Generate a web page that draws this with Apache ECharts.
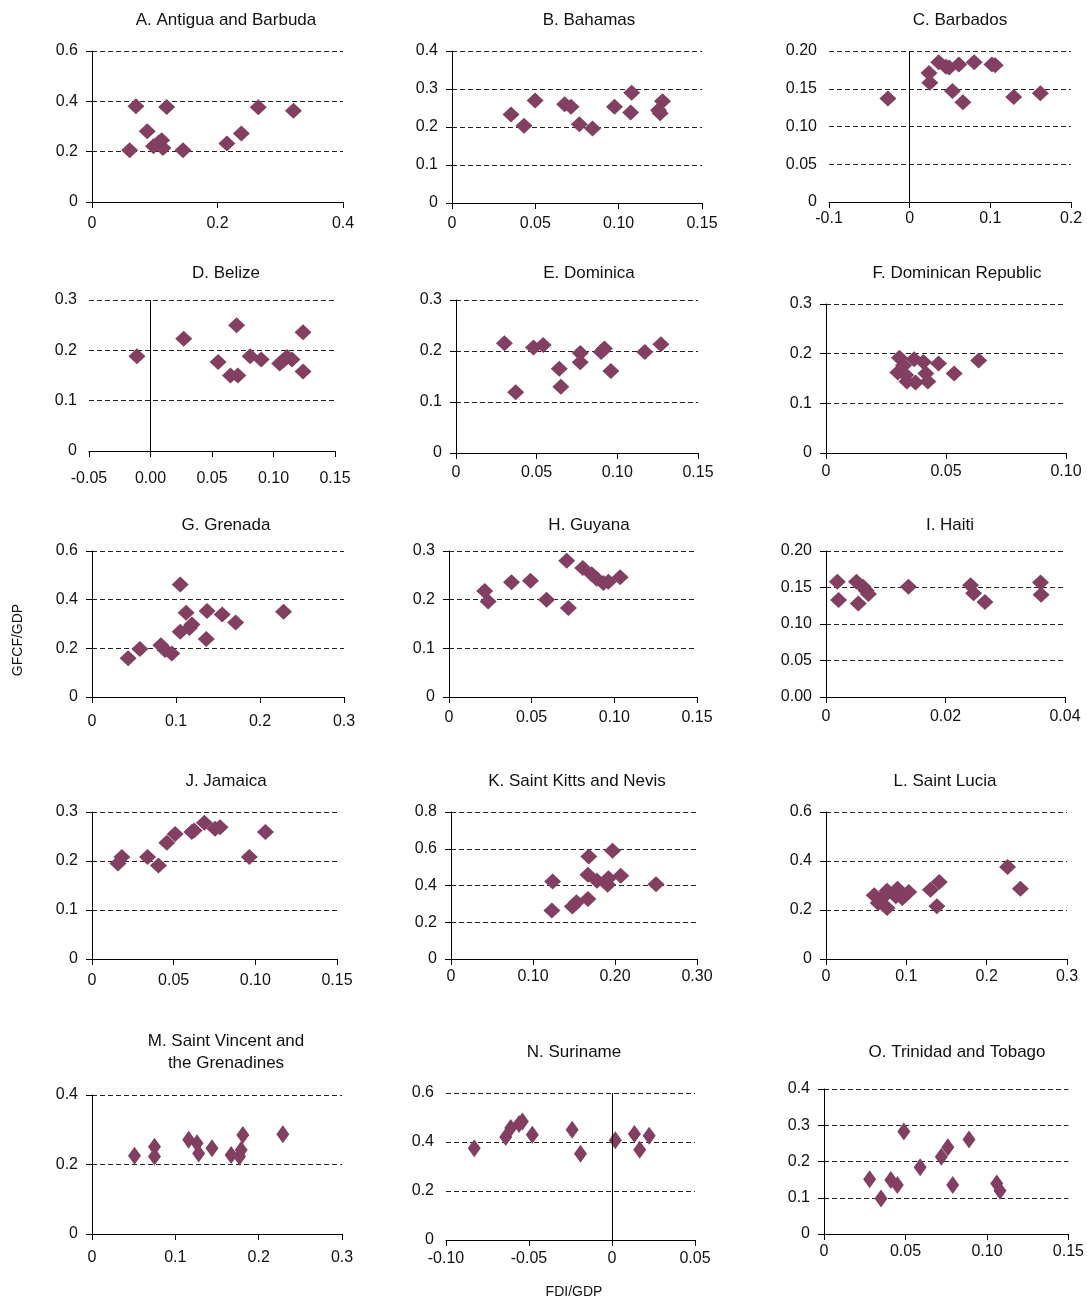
<!DOCTYPE html>
<html><head><meta charset="utf-8">
<script src="https://cdn.jsdelivr.net/npm/echarts@6/dist/echarts.min.js"></script>
<style>html,body{margin:0;padding:0;background:#fff}#c{width:1087px;height:1300px}</style>
</head><body><div id="c"></div>
<script>
// ---------- DATA ----------
const panelTitles = ['A. Antigua and Barbuda','B. Bahamas','C. Barbados','D. Belize','E. Dominica','F. Dominican Republic','G. Grenada','H. Guyana','I. Haiti','J. Jamaica','K. Saint Kitts and Nevis','L. Saint Lucia','M. Saint Vincent and\nthe Grenadines','N. Suriname','O. Trinidad and Tobago'];
const xAxisTitle = 'FDI/GDP';
const yAxisTitle = 'GFCF/GDP';

const fdiA = [0.060,0.070,0.088,0.098,0.106,0.111,0.113,0.119,0.145,0.215,0.238,0.265,0.321];
const gfcfA = [0.206,0.380,0.281,0.222,0.235,0.245,0.215,0.377,0.206,0.232,0.272,0.376,0.363];
const fdiB = [0.0354,0.0432,0.0499,0.0676,0.0714,0.0764,0.0843,0.0975,0.1072,0.1078,0.1239,0.1249,0.1263];
const gfcfB = [0.233,0.203,0.270,0.260,0.253,0.207,0.196,0.253,0.238,0.290,0.244,0.236,0.268];
const fdiC = [-0.027,0.024,0.025,0.036,0.045,0.049,0.053,0.061,0.066,0.080,0.102,0.106,0.129,0.162];
const gfcfC = [0.137,0.171,0.158,0.185,0.179,0.178,0.147,0.182,0.132,0.185,0.182,0.181,0.139,0.144];
const fdiD = [-0.011,0.027,0.055,0.065,0.071,0.070,0.081,0.090,0.105,0.108,0.111,0.115,0.124,0.124];
const gfcfD = [0.188,0.223,0.177,0.150,0.150,0.250,0.188,0.182,0.174,0.180,0.187,0.182,0.236,0.158];
const fdiE = [0.030,0.037,0.048,0.054,0.064,0.065,0.077,0.077,0.090,0.092,0.096,0.117,0.127];
const gfcfE = [0.215,0.119,0.207,0.212,0.165,0.130,0.196,0.178,0.198,0.205,0.161,0.198,0.213];
const fdiF = [0.0306,0.0299,0.0323,0.0332,0.0337,0.0367,0.0373,0.0406,0.0416,0.0424,0.0469,0.0534,0.0636];
const gfcfF = [0.192,0.162,0.176,0.157,0.144,0.189,0.142,0.183,0.160,0.144,0.180,0.160,0.186];
const fdiG = [0.043,0.057,0.082,0.087,0.095,0.105,0.105,0.112,0.116,0.119,0.136,0.137,0.155,0.171,0.228];
const gfcfG = [0.159,0.197,0.213,0.193,0.179,0.462,0.268,0.346,0.284,0.298,0.238,0.353,0.339,0.306,0.350];
const fdiH = [0.0216,0.0237,0.0378,0.0493,0.059,0.0712,0.0722,0.0809,0.0863,0.0893,0.0934,0.0964,0.1035];
const gfcfH = [0.218,0.196,0.236,0.239,0.200,0.280,0.183,0.265,0.252,0.243,0.234,0.237,0.246];
const fdiI = [0.0019,0.0021,0.0051,0.0054,0.0062,0.0067,0.0071,0.0138,0.0242,0.0247,0.0266,0.0359,0.0360];
const gfcfI = [0.158,0.133,0.158,0.128,0.151,0.146,0.141,0.151,0.153,0.142,0.130,0.157,0.140];
const fdiJ = [0.0159,0.0183,0.034,0.0407,0.0458,0.0509,0.0611,0.0625,0.0688,0.0753,0.0784,0.0963,0.1062];
const gfcfJ = [0.195,0.208,0.208,0.191,0.237,0.255,0.259,0.262,0.278,0.266,0.269,0.208,0.259];
const fdiK = [0.124,0.123,0.148,0.153,0.167,0.168,0.167,0.178,0.191,0.192,0.197,0.207,0.250];
const gfcfK = [0.422,0.264,0.286,0.309,0.327,0.558,0.458,0.426,0.404,0.440,0.589,0.453,0.407];
const fdiL = [0.060,0.065,0.070,0.076,0.076,0.087,0.089,0.095,0.103,0.130,0.141,0.138,0.226,0.242];
const gfcfL = [0.260,0.229,0.249,0.279,0.208,0.256,0.287,0.249,0.273,0.283,0.314,0.215,0.376,0.287];
const fdiM = [0.051,0.075,0.075,0.116,0.126,0.128,0.144,0.167,0.177,0.179,0.181,0.229];
const gfcfM = [0.225,0.251,0.223,0.271,0.261,0.232,0.247,0.227,0.223,0.242,0.285,0.287];
const fdiN = [-0.083,-0.064,-0.061,-0.056,-0.054,-0.048,-0.024,-0.019,0.002,0.0135,0.0167,0.0224];
const gfcfN = [0.375,0.420,0.457,0.473,0.484,0.430,0.450,0.352,0.407,0.433,0.368,0.426];
const fdiO = [0.028,0.035,0.041,0.045,0.049,0.059,0.072,0.076,0.079,0.089,0.106,0.108];
const gfcfO = [0.151,0.098,0.149,0.135,0.283,0.184,0.213,0.239,0.135,0.261,0.139,0.119];

const xTicksA = ['0','0.2','0.4'];               const yTicksA = ['0','0.2','0.4','0.6'];
const xTicksB = ['0','0.05','0.10','0.15'];      const yTicksB = ['0','0.1','0.2','0.3','0.4'];
const xTicksC = ['-0.1','0','0.1','0.2'];        const yTicksC = ['0','0.05','0.10','0.15','0.20'];
const xTicksD = ['-0.05','0.00','0.05','0.10','0.15']; const yTicksD = ['0','0.1','0.2','0.3'];
const xTicksE = ['0','0.05','0.10','0.15'];      const yTicksE = ['0','0.1','0.2','0.3'];
const xTicksF = ['0','0.05','0.10'];             const yTicksF = ['0','0.1','0.2','0.3'];
const xTicksG = ['0','0.1','0.2','0.3'];         const yTicksG = ['0','0.2','0.4','0.6'];
const xTicksH = ['0','0.05','0.10','0.15'];      const yTicksH = ['0','0.1','0.2','0.3'];
const xTicksI = ['0','0.02','0.04'];             const yTicksI = ['0.00','0.05','0.10','0.15','0.20'];
const xTicksJ = ['0','0.05','0.10','0.15'];      const yTicksJ = ['0','0.1','0.2','0.3'];
const xTicksK = ['0','0.10','0.20','0.30'];      const yTicksK = ['0','0.2','0.4','0.6','0.8'];
const xTicksL = ['0','0.1','0.2','0.3'];         const yTicksL = ['0','0.2','0.4','0.6'];
const xTicksM = ['0','0.1','0.2','0.3'];         const yTicksM = ['0','0.2','0.4'];
const xTicksN = ['-0.10','-0.05','0','0.05'];    const yTicksN = ['0','0.2','0.4','0.6'];
const xTicksO = ['0','0.05','0.10','0.15'];      const yTicksO = ['0','0.1','0.2','0.3','0.4'];

// ---------- LAYOUT ----------
const panels = [
  [fdiA,gfcfA,xTicksA,yTicksA],[fdiB,gfcfB,xTicksB,yTicksB],[fdiC,gfcfC,xTicksC,yTicksC],
  [fdiD,gfcfD,xTicksD,yTicksD],[fdiE,gfcfE,xTicksE,yTicksE],[fdiF,gfcfF,xTicksF,yTicksF],
  [fdiG,gfcfG,xTicksG,yTicksG],[fdiH,gfcfH,xTicksH,yTicksH],[fdiI,gfcfI,xTicksI,yTicksI],
  [fdiJ,gfcfJ,xTicksJ,yTicksJ],[fdiK,gfcfK,xTicksK,yTicksK],[fdiL,gfcfL,xTicksL,yTicksL],
  [fdiM,gfcfM,xTicksM,yTicksM],[fdiN,gfcfN,xTicksN,yTicksN],[fdiO,gfcfO,xTicksO,yTicksO]
];
// plot boxes [left, top, right, bottom, xLabelMargin]
const boxes = [
  [92,51,343,202,14],[452,51,702,203,13],[829,51,1071,202,9],
  [89,300,335,451,20],[456,300,698,453,12],[826,304,1066,453,11],
  [92,551,344,697,17],[449,551,697,697,13],[826,551,1065,697,12],
  [92,812,337,959,14],[451,812,697,959,10],[826,812,1067,959,10],
  [92,1095,342,1234,16],[446,1093,695,1240,11],[824,1089,1071,1234,10]
];
const titlePos = [
  [226,20],[589,20],[960,20],
  [226,273],[589,273],[957,273],
  [226,525],[589,525],[950,525],
  [226,781],[577,781],[945,781],
  [226,1052],[574,1052],[957,1052]
];

const FONT = '"Liberation Sans", Arial, sans-serif';
const TXT = '#111';
const MARK = '#823f62';

function num(s){ return parseFloat(s); }
function fmt(labels){
  return function(v){
    let best = labels[0], bd = Infinity;
    for (const l of labels){ const d = Math.abs(num(l)-v); if (d<bd){bd=d;best=l;} }
    return best;
  };
}
function axisRange(labels){
  const min = num(labels[0]), max = num(labels[labels.length-1]);
  const interval = Math.round((num(labels[1])-num(labels[0]))*1e6)/1e6;
  return {min, max, interval};
}

const grid=[], xAxis=[], yAxis=[], series=[], graphic=[];
panels.forEach((p,i)=>{
  const [xs, ys, xt, yt] = p;
  const b = boxes[i];
  grid.push({left:b[0], top:b[1], width:b[2]-b[0], height:b[3]-b[1], containLabel:false});
  const xr = axisRange(xt), yr = axisRange(yt);
  const crossesZero = xr.min < 0;
  xAxis.push({
    type:'value', gridIndex:i, min:xr.min, max:xr.max, interval:xr.interval,
    axisLine:{show:true, onZero:false, lineStyle:{color:'#000', width:1}},
    axisTick:{show:true, length:6, lineStyle:{color:'#000'}},
    splitLine:{show:false},
    axisLabel:{formatter:fmt(xt), color:TXT, fontFamily:FONT, fontSize:16, margin:b[4]}
  });
  yAxis.push({
    type:'value', gridIndex:i, min:yr.min, max:yr.max, interval:yr.interval,
    axisLine:{show:!crossesZero, onZero:false, lineStyle:{color:'#000', width:1}},
    axisTick:{show:!crossesZero, length:6, lineStyle:{color:'#000'}},
    splitLine:{show:true, lineStyle:{color:'#222', type:[5,3], width:1}},
    axisLabel:{formatter:fmt(yt), color:TXT, fontFamily:FONT, fontSize:16, margin: crossesZero ? 12 : 14}
  });
  const big = i >= 12;
  const s = {
    type:'scatter', xAxisIndex:i, yAxisIndex:i,
    data: xs.map((x,k)=>[x, ys[k]]),
    symbol:'diamond', symbolSize: big ? [13,18] : [17,16],
    itemStyle:{color:MARK, opacity:1},
    z:3
  };
  if (crossesZero){
    s.markLine = {silent:true, symbol:'none', animation:false,
      label:{show:false}, lineStyle:{color:'#000', type:'solid', width:1},
      data:[{xAxis:0}]};
  }
  series.push(s);
  const tp = titlePos[i];
  graphic.push({type:'text', x:tp[0], y:tp[1], style:{text:panelTitles[i], align:'center', verticalAlign:'middle', font:'17px '+FONT, fill:TXT, lineHeight:22}});
});
graphic.push({type:'text', x:574, y:1292, style:{text:xAxisTitle, align:'center', verticalAlign:'middle', font:'14px '+FONT, fill:TXT}});
graphic.push({type:'text', x:18, y:640, rotation:Math.PI/2, style:{text:yAxisTitle, align:'center', verticalAlign:'middle', font:'14px '+FONT, fill:TXT}});

const chart = echarts.init(document.getElementById('c'), null, {renderer:'canvas'});
chart.setOption({animation:false, backgroundColor:'#fff', grid, xAxis, yAxis, series, graphic});
</script>
</body></html>
